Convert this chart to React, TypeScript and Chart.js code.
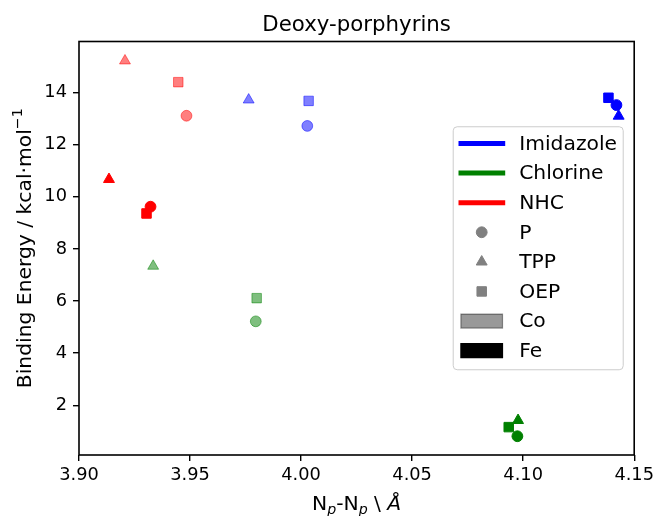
import React, { useEffect, useRef } from 'react';
import { Chart, registerables } from 'chart.js';

Chart.register(...registerables);

const chartTitle = 'Deoxy-porphyrins';
const ligands = ['Imidazole', 'Chlorine', 'NHC'];
const ligandRGB = ['0,0,255', '0,128,0', '255,0,0'];
const porphyrins = ['P', 'TPP', 'OEP'];
const porphyrinStyles = ['circle', 'triangle', 'rect'];
const metals = ['Co', 'Fe'];
const metalAlpha = [0.5, 1];

// Values in order P, TPP, OEP
const imidazoleCoX = [4.0028, 3.9764, 4.0034];
const imidazoleCoY = [12.72, 13.72, 13.68];
const imidazoleFeX = [4.142, 4.143, 4.1384];
const imidazoleFeY = [13.52, 13.1, 13.8];
const chlorineCoX = [3.9796, 3.9334, 3.98];
const chlorineCoY = [5.22, 7.34, 6.11];
const chlorineFeX = [4.0974, 4.0977, 4.0935];
const chlorineFeY = [0.81, 1.42, 1.16];
const nhcCoX = [3.9484, 3.9207, 3.9447];
const nhcCoY = [13.11, 15.22, 14.4];
const nhcFeX = [3.9322, 3.9135, 3.9304];
const nhcFeY = [9.62, 10.67, 9.36];

const xTicks = [3.9, 3.95, 4.0, 4.05, 4.1, 4.15];
const yTicks = [2, 4, 6, 8, 10, 12, 14];

const seriesX = [
  [imidazoleCoX, imidazoleFeX],
  [chlorineCoX, chlorineFeX],
  [nhcCoX, nhcFeX],
];
const seriesY = [
  [imidazoleCoY, imidazoleFeY],
  [chlorineCoY, chlorineFeY],
  [nhcCoY, nhcFeY],
];

const FONT = '"DejaVu Sans"';
const markerRadius = [5.4, 6.3, 6.7];

function buildDatasets() {
  const ds: any[] = [];
  ligands.forEach((lig, li) => {
    metals.forEach((m, mi) => {
      const xs = seriesX[li][mi];
      const ys = seriesY[li][mi];
      const col = `rgba(${ligandRGB[li]},${metalAlpha[mi]})`;
      ds.push({
        label: `${lig} ${m}`,
        data: xs.map((x, i) => ({ x, y: ys[i] })),
        pointStyle: porphyrinStyles,
        pointRadius: markerRadius,
        backgroundColor: col,
        borderColor: col,
        pointBorderWidth: 1,
        showLine: false,
      });
    });
  });
  return ds;
}

function drawMarker(ctx: CanvasRenderingContext2D, style: string, x: number, y: number, r: number) {
  ctx.beginPath();
  if (style === 'circle') {
    ctx.arc(x, y, r, 0, Math.PI * 2);
  } else if (style === 'triangle') {
    ctx.moveTo(x, y - r);
    ctx.lineTo(x + r * Math.sin((2 * Math.PI) / 3), y + r / 2);
    ctx.lineTo(x - r * Math.sin((2 * Math.PI) / 3), y + r / 2);
    ctx.closePath();
  } else {
    const s = r * Math.SQRT1_2;
    ctx.rect(x - s, y - s, 2 * s, 2 * s);
  }
  ctx.fill();
  ctx.stroke();
}

type Part = { t: string; font: string; dy: number };

function drawParts(ctx: CanvasRenderingContext2D, parts: Part[], cx: number, baseline: number) {
  let total = 0;
  parts.forEach((p) => {
    ctx.font = p.font;
    total += ctx.measureText(p.t).width;
  });
  let x = cx - total / 2;
  ctx.textAlign = 'left';
  ctx.textBaseline = 'alphabetic';
  parts.forEach((p) => {
    ctx.font = p.font;
    ctx.fillText(p.t, x, baseline + p.dy);
    x += ctx.measureText(p.t).width;
  });
}

const decor = {
  id: 'decor',
  afterDraw(chart: any) {
    const { ctx, chartArea: a } = chart;
    ctx.save();
    // spines
    ctx.strokeStyle = '#000';
    ctx.lineWidth = 1.6;
    ctx.strokeRect(a.left, a.top, a.right - a.left, a.bottom - a.top);

    ctx.fillStyle = '#000';
    // title
    ctx.font = `21.3px ${FONT}`;
    ctx.textAlign = 'center';
    ctx.textBaseline = 'alphabetic';
    ctx.fillText(chartTitle, (a.left + a.right) / 2, a.top - 10.5);

    // x label
    const fs = 20.3;
    const sub = fs * 0.7;
    drawParts(
      ctx,
      [
        { t: 'N', font: `${fs}px ${FONT}`, dy: 0 },
        { t: 'p', font: `italic ${sub}px ${FONT}`, dy: fs * 0.2 },
        { t: '-N', font: `${fs}px ${FONT}`, dy: 0 },
        { t: 'p', font: `italic ${sub}px ${FONT}`, dy: fs * 0.2 },
        { t: ' \\ ', font: `${fs}px ${FONT}`, dy: 0 },
        { t: 'Å', font: `italic ${fs}px ${FONT}`, dy: 0 },
      ],
      (a.left + a.right) / 2,
      509.5
    );

    // y label
    ctx.save();
    ctx.translate(30.5, (a.top + a.bottom) / 2);
    ctx.rotate(-Math.PI / 2);
    drawParts(
      ctx,
      [
        { t: 'Binding Energy / kcal·mol', font: `${fs}px ${FONT}`, dy: 0 },
        { t: '−1', font: `${sub}px ${FONT}`, dy: -fs * 0.4 },
      ],
      0,
      0
    );
    ctx.restore();

    // legend
    const lw = 170;
    const lh = 243;
    const lx = a.right - 11 - lw;
    const ly = (a.top + a.bottom) / 2 - lh / 2;
    ctx.beginPath();
    const rr = 4;
    ctx.moveTo(lx + rr, ly);
    ctx.arcTo(lx + lw, ly, lx + lw, ly + lh, rr);
    ctx.arcTo(lx + lw, ly + lh, lx, ly + lh, rr);
    ctx.arcTo(lx, ly + lh, lx, ly, rr);
    ctx.arcTo(lx, ly, lx + lw, ly, rr);
    ctx.closePath();
    ctx.fillStyle = 'rgba(255,255,255,0.8)';
    ctx.fill();
    ctx.strokeStyle = 'rgb(204,204,204)';
    ctx.lineWidth = 1;
    ctx.stroke();

    const rowY = (i: number) => ly + 16.7 + i * 29.6;
    const textX = lx + 66;
    const legFont = `20.3px ${FONT}`;
    const labels: string[] = [];
    let row = 0;
    ligands.forEach((lig, li) => {
      const y = rowY(row);
      ctx.strokeStyle = `rgb(${ligandRGB[li]})`;
      ctx.lineWidth = 5;
      ctx.beginPath();
      ctx.moveTo(lx + 5.3, y);
      ctx.lineTo(lx + 52, y);
      ctx.stroke();
      labels.push(lig);
      row++;
    });
    porphyrins.forEach((p, pi) => {
      const y = rowY(row);
      ctx.fillStyle = 'rgb(128,128,128)';
      ctx.strokeStyle = 'rgb(128,128,128)';
      ctx.lineWidth = 1;
      drawMarker(ctx, porphyrinStyles[pi], lx + 28.5, y, markerRadius[pi]);
      labels.push(p);
      row++;
    });
    metals.forEach((m, mi) => {
      const y = rowY(row);
      const c = `rgba(0,0,0,${mi === 0 ? 0.4 : 1})`;
      ctx.fillStyle = c;
      ctx.strokeStyle = c;
      ctx.lineWidth = 1.2;
      ctx.beginPath();
      ctx.rect(lx + 7.7, y - 7, 41.6, 14);
      ctx.fill();
      ctx.stroke();
      labels.push(m);
      row++;
    });
    ctx.fillStyle = '#000';
    ctx.font = legFont;
    ctx.textAlign = 'left';
    ctx.textBaseline = 'middle';
    labels.forEach((t, i) => ctx.fillText(t, textX, rowY(i) + 1));
    ctx.restore();
  },
};

export default function App() {
  const ref = useRef<HTMLCanvasElement>(null);
  useEffect(() => {
    document.body.style.margin = '0';
    const tickFont = { family: 'DejaVu Sans', size: 17.8 };
    const chart = new Chart(ref.current as HTMLCanvasElement, {
      type: 'scatter',
      data: { datasets: buildDatasets() },
      options: {
        responsive: false,
        animation: false,
        events: [],
        layout: { padding: { top: 41.5, right: 23, left: 0, bottom: 0 } },
        plugins: {
          legend: { display: false },
          title: { display: false },
          tooltip: { enabled: false },
        },
        scales: {
          x: {
            type: 'linear',
            min: 3.9,
            max: 4.15,
            afterBuildTicks: (s: any) => {
              s.ticks = xTicks.map((v) => ({ value: v }));
            },
            afterFit: (s: any) => {
              s.height = 61;
            },
            grid: { drawOnChartArea: false, drawTicks: true, tickLength: 6, color: '#000', lineWidth: 1.4 },
            border: { display: false },
            ticks: {
              color: '#000',
              font: tickFont,
              padding: 4,
              maxRotation: 0,
              autoSkip: false,
              callback: (v: any) => Number(v).toFixed(2),
            },
          },
          y: {
            type: 'linear',
            min: 0.09,
            max: 15.96,
            afterBuildTicks: (s: any) => {
              s.ticks = yTicks.map((v) => ({ value: v }));
            },
            afterFit: (s: any) => {
              s.width = 79;
            },
            grid: { drawOnChartArea: false, drawTicks: true, tickLength: 6, color: '#000', lineWidth: 1.4 },
            border: { display: false },
            ticks: {
              color: '#000',
              font: tickFont,
              padding: 6,
              autoSkip: false,
              callback: (v: any) => String(v),
            },
          },
        },
      } as any,
      plugins: [decor],
    });
    return () => chart.destroy();
  }, []);
  return (
    <div style={{ width: 658, height: 516, background: '#fff' }}>
      <canvas ref={ref} width={658} height={516} style={{ display: 'block', width: 658, height: 516 }} />
    </div>
  );
}
